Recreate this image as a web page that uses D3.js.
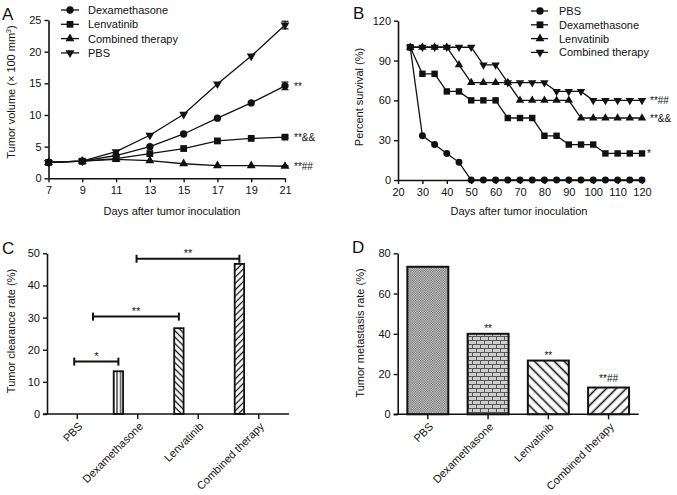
<!DOCTYPE html>
<html><head><meta charset="utf-8">
<script src="https://cdn.jsdelivr.net/npm/d3@7"></script>
<style>
body{margin:0;background:#fff}
svg{display:block}
text{font-family:"Liberation Sans",Arial,Helvetica,sans-serif;fill:#111}
</style>
</head><body>
<svg id="c" width="677" height="495"></svg>
<script>
// ---------- Panel A: tumour volume ----------
const daysA = [7, 9, 11, 13, 15, 17, 19, 21];
const seriesNamesA = ["Dexamethasone", "Lenvatinib", "Combined therapy", "PBS"];
const volDex  = [2.5, 2.7, 3.6, 5.0, 7.0, 9.5, 11.9, 14.6];
const volLenv = [2.5, 2.7, 3.1, 3.9, 4.7, 5.9, 6.3, 6.5];
const volComb = [2.5, 2.7, 3.0, 2.8, 2.3, 2.0, 2.0, 1.9];
const volPBS  = [2.5, 2.7, 4.2, 6.8, 10.1, 14.9, 19.3, 24.2];
const errDex  = [0, 0, 0, 0, 0, 0, 0, 0.6];
const errLenv = [0, 0, 0, 0, 0, 0, 0, 0.2];
const errComb = [0, 0, 0, 0, 0, 0, 0, 0.1];
const errPBS  = [0, 0, 0, 0, 0, 0, 0, 0.6];
const annotA  = ["**", "**&&", "**##", ""];
const ticksAX = [7, 9, 11, 13, 15, 17, 19, 21];
const ticksAY = [0, 5, 10, 15, 20, 25];

// ---------- Panel B: survival ----------
const daysB = [25, 30, 35, 40, 45, 50, 55, 60, 65, 70, 75, 80, 85, 90, 95, 100, 105, 110, 115, 120];
const seriesNamesB = ["PBS", "Dexamethasone", "Lenvatinib", "Combined therapy"];
const survPBS  = [100, 33.3, 26.7, 20, 13.3, 0, 0, 0, 0, 0, 0, 0, 0, 0, 0, 0, 0, 0, 0, 0];
const survDex  = [100, 80, 80, 66.7, 66.7, 60, 60, 60, 46.7, 46.7, 46.7, 33.3, 33.3, 26.7, 26.7, 26.7, 20, 20, 20, 20];
const survLenv = [100, 100, 100, 100, 86.7, 73.3, 73.3, 73.3, 73.3, 60, 60, 60, 60, 60, 46.7, 46.7, 46.7, 46.7, 46.7, 46.7];
const survComb = [100, 100, 100, 100, 100, 100, 86.7, 86.7, 73.3, 73.3, 73.3, 73.3, 66.7, 66.7, 66.7, 60, 60, 60, 60, 60];
const annotB   = ["", "*", "**&&", "**##"];
const ticksBX = [20, 30, 40, 50, 60, 70, 80, 90, 100, 110, 120];
const ticksBY = [0, 30, 60, 90, 120];

// ---------- Panel C: clearance ----------
const groups = ["PBS", "Dexamethasone", "Lenvatinib", "Combined therapy"];
const clearance = [0, 13.3, 26.7, 46.7];
const bracketFrom  = [-0.05, 0.26, 0.98];
const bracketTo    = [0.68, 1.68, 2.68];
const bracketLevel = [16.3, 30.3, 48.3];
const bracketLabel = ["*", "**", "**"];
const ticksCY = [0, 10, 20, 30, 40, 50];

// ---------- Panel D: metastasis ----------
const metastasis = [73.3, 40, 26.7, 13.3];
const annotD = ["", "**", "**", "**##"];
const ticksDY = [0, 20, 40, 60, 80];

const svg = d3.select("#c");
const FS = 11;
const INK = "#111";

// ---------- patterns ----------
const defs = svg.append("defs");
function stripes(id, size, angle, sw) {
  const p = defs.append("pattern").attr("id", id).attr("patternUnits", "userSpaceOnUse")
    .attr("width", size).attr("height", size).attr("patternTransform", `rotate(${angle})`);
  p.append("rect").attr("width", size).attr("height", size).attr("fill", "#fff");
  p.append("line").attr("x1", size / 2).attr("y1", 0).attr("x2", size / 2).attr("y2", size)
    .attr("stroke", INK).attr("stroke-width", sw);
}
stripes("vstripe", 3.6, 0, 1.1);
stripes("bsC", 4.5, -45, 1.3);
stripes("fsC", 4.5, 45, 1.3);
stripes("bsD", 7, -45, 1.6);
stripes("fsD", 7, 45, 1.6);
{
  const p = defs.append("pattern").attr("id", "checker").attr("patternUnits", "userSpaceOnUse")
    .attr("width", 2.4).attr("height", 2.4);
  p.append("rect").attr("width", 2.4).attr("height", 2.4).attr("fill", "#eaeaea");
  p.append("rect").attr("width", 1.2).attr("height", 1.2).attr("fill", "#555");
  p.append("rect").attr("x", 1.2).attr("y", 1.2).attr("width", 1.2).attr("height", 1.2).attr("fill", "#555");
}
{
  const p = defs.append("pattern").attr("id", "brick").attr("patternUnits", "userSpaceOnUse")
    .attr("width", 8).attr("height", 8);
  p.append("rect").attr("width", 8).attr("height", 8).attr("fill", "#cfcfcf");
  const g = p.append("g").attr("stroke", "#555").attr("stroke-width", 1);
  g.append("line").attr("x1", 0).attr("y1", 0.5).attr("x2", 8).attr("y2", 0.5);
  g.append("line").attr("x1", 0).attr("y1", 4.5).attr("x2", 8).attr("y2", 4.5);
  g.append("line").attr("x1", 0.5).attr("y1", 0).attr("x2", 0.5).attr("y2", 4);
  g.append("line").attr("x1", 4.5).attr("y1", 4).attr("x2", 4.5).attr("y2", 8);
}

function styleAxis(g) {
  g.attr("font-size", FS).attr("font-family", '"Liberation Sans",Arial,sans-serif');
  g.selectAll(".domain").attr("stroke", INK).attr("stroke-width", 1.6);
  g.selectAll(".tick line").attr("stroke", INK).attr("stroke-width", 1.4);
  g.selectAll(".tick text").attr("fill", INK);
}
function panelLetter(t, x, y) {
  svg.append("text").attr("x", x).attr("y", y).attr("font-size", 17).text(t);
}
function yTitle(t, x, y) {
  return svg.append("text").attr("transform", `translate(${x},${y}) rotate(-90)`)
    .attr("text-anchor", "middle").attr("font-size", FS).text(t);
}

const symType = { circle: d3.symbolCircle, square: d3.symbolSquare, tri: d3.symbolTriangle, down: d3.symbolTriangle };
const symSize = { circle: 42, square: 46, tri: 34, down: 34 };
function marker(g, type, x, y, scale = 1) {
  g.append("path").attr("d", d3.symbol(symType[type], symSize[type] * scale)())
    .attr("transform", `translate(${x},${y})` + (type === "down" ? " rotate(180)" : ""))
    .attr("fill", INK);
}

// ================= Panel A =================
{
  const x = d3.scaleLinear().domain([7, 21]).range([48.5, 285]);
  const y = d3.scaleLinear().domain([0, 25]).range([178.3, 20]);
  const gx = svg.append("g").attr("transform", `translate(0,${y(0)})`)
    .call(d3.axisBottom(x).tickValues(ticksAX).tickSize(4).tickSizeOuter(0).tickPadding(4));
  styleAxis(gx);
  const gy = svg.append("g").attr("transform", `translate(${x(7)},0)`)
    .call(d3.axisLeft(y).tickValues(ticksAY).tickSize(4).tickSizeOuter(0).tickPadding(3));
  styleAxis(gy);

  const data = [volDex, volLenv, volComb, volPBS];
  const errs = [errDex, errLenv, errComb, errPBS];
  const types = ["circle", "square", "tri", "down"];
  const line = d3.line().x((d, i) => x(daysA[i])).y(d => y(d));
  const g = svg.append("g");
  data.forEach((vals, s) => {
    g.append("path").attr("d", line(vals)).attr("fill", "none").attr("stroke", INK).attr("stroke-width", 1.3);
    vals.forEach((v, i) => {
      const e = errs[s][i];
      if (e > 0) {
        g.append("line").attr("x1", x(daysA[i])).attr("x2", x(daysA[i])).attr("y1", y(v - e)).attr("y2", y(v + e)).attr("stroke", INK).attr("stroke-width", 1.2);
        [v - e, v + e].forEach(b => g.append("line").attr("x1", x(daysA[i]) - 3.5).attr("x2", x(daysA[i]) + 3.5)
          .attr("y1", y(b)).attr("y2", y(b)).attr("stroke", INK).attr("stroke-width", 1.2));
      }
      marker(g, types[s], x(daysA[i]), y(v));
    });
    if (annotA[s]) {
      svg.append("text").attr("x", x(21) + 9).attr("y", y(vals[vals.length - 1]) + 4)
        .attr("font-size", 10).attr("fill", "#222").text(annotA[s]);
    }
  });
  seriesNamesA.forEach((n, i) => {
    const ly = 10 + i * 14.3;
    svg.append("line").attr("x1", 61).attr("x2", 79).attr("y1", ly).attr("y2", ly).attr("stroke", INK).attr("stroke-width", 1.3);
    marker(svg, types[i], 70, ly);
    svg.append("text").attr("x", 88).attr("y", ly + 4).attr("font-size", FS).text(n);
  });
  const t = yTitle("", 15, 92);
  t.append("tspan").text("Tumor volume (× 100 mm");
  t.append("tspan").attr("font-size", 7).attr("dy", -4).text("3");
  t.append("tspan").attr("dy", 4).text(")");
  svg.append("text").attr("x", 172).attr("y", 215).attr("text-anchor", "middle").attr("font-size", FS).text("Days after tumor inoculation");
  panelLetter("A", 2, 20);
}

// ================= Panel B =================
{
  const x = d3.scaleLinear().domain([20, 120]).range([398, 642]);
  const y = d3.scaleLinear().domain([0, 120]).range([180, 20.7]);
  const gx = svg.append("g").attr("transform", `translate(0,${y(0)})`)
    .call(d3.axisBottom(x).tickValues(ticksBX).tickSize(4).tickSizeOuter(0).tickPadding(4));
  styleAxis(gx);
  const gy = svg.append("g").attr("transform", `translate(${x(20)},0)`)
    .call(d3.axisLeft(y).tickValues(ticksBY).tickSize(4).tickSizeOuter(0).tickPadding(3));
  styleAxis(gy);

  const data = [survPBS, survDex, survLenv, survComb];
  const types = ["circle", "square", "tri", "down"];
  const line = d3.line().x((d, i) => x(daysB[i])).y(d => y(d));
  const g = svg.append("g");
  data.forEach((vals, s) => {
    g.append("path").attr("d", line(vals)).attr("fill", "none").attr("stroke", INK).attr("stroke-width", 1.3);
    vals.forEach((v, i) => marker(g, types[s], x(daysB[i]), y(v), 0.9));
    if (annotB[s]) {
      svg.append("text").attr("x", x(120) + (annotB[s] === "*" ? 5 : 8)).attr("y", y(vals[vals.length - 1]) + 4)
        .attr("font-size", 10).attr("fill", "#222").text(annotB[s]);
    }
  });
  seriesNamesB.forEach((n, i) => {
    const ly = 11 + i * 13.8;
    svg.append("line").attr("x1", 531).attr("x2", 548).attr("y1", ly).attr("y2", ly).attr("stroke", INK).attr("stroke-width", 1.3);
    marker(svg, types[i], 540, ly);
    svg.append("text").attr("x", 559).attr("y", ly + 4).attr("font-size", FS).text(n);
  });
  yTitle("Percent survival (%)", 363, 97);
  svg.append("text").attr("x", 519).attr("y", 215).attr("text-anchor", "middle").attr("font-size", FS).text("Days after tumor inoculation");
  panelLetter("B", 353, 19);
}

// rotated category labels, drawn from the band scale
function categoryLabels(x, y0) {
  const bw = x.bandwidth();
  svg.append("g").selectAll("text").data(groups).join("text")
    .attr("text-anchor", "end").attr("font-size", FS)
    .attr("transform", d => `translate(${x(d) + bw / 2 + 6},${y0 + 13}) rotate(-45)`)
    .text(d => d);
}

// ================= Panel C =================
{
  const x = d3.scaleBand().domain(groups).range([47, 289]);
  const bw = x.bandwidth();
  const center = g => x(g) + bw / 2;
  const xi = d3.scaleLinear().domain([0, 3]).range([center(groups[0]), center(groups[3])]);
  const y = d3.scaleLinear().domain([0, 50]).range([414, 253.3]);
  const fills = ["#fff", "url(#vstripe)", "url(#bsC)", "url(#fsC)"];
  const barW = bw * 0.155;
  const g = svg.append("g");
  groups.forEach((c, i) => {
    if (clearance[i] <= 0) return;
    g.append("rect").attr("x", xi(i - 0.32) - barW / 2).attr("y", y(clearance[i]))
      .attr("width", barW).attr("height", y(0) - y(clearance[i]))
      .attr("fill", fills[i]).attr("stroke", INK).attr("stroke-width", 1.8);
  });
  const gx = svg.append("g").attr("transform", `translate(0,${y(0)})`)
    .call(d3.axisBottom(x).tickSize(5).tickSizeOuter(0).tickFormat(""));
  styleAxis(gx);
  gx.select(".domain").attr("d", "M43,0H289");
  categoryLabels(x, y(0));
  const gy = svg.append("g").attr("transform", `translate(47,0)`)
    .call(d3.axisLeft(y).tickValues(ticksCY).tickSize(4).tickSizeOuter(0).tickPadding(3));
  styleAxis(gy);
  bracketLevel.forEach((lv, i) => {
    const x1 = xi(bracketFrom[i]), x2 = xi(bracketTo[i]), yy = y(lv);
    g.append("line").attr("x1", x1).attr("x2", x2).attr("y1", yy).attr("y2", yy).attr("stroke", INK).attr("stroke-width", 2);
    [x1, x2].forEach(xx => g.append("line").attr("x1", xx).attr("x2", xx).attr("y1", yy - 4).attr("y2", yy + 4).attr("stroke", INK).attr("stroke-width", 2));
    svg.append("text").attr("x", (x1 + x2) / 2).attr("y", yy - 2).attr("text-anchor", "middle")
      .attr("font-size", 11).attr("fill", "#222").text(bracketLabel[i]);
  });
  yTitle("Tumor clearance rate (%)", 15, 331);
  panelLetter("C", 2, 254);
}

// ================= Panel D =================
{
  const x = d3.scaleBand().domain(groups).range([397.7, 638.7]).paddingInner(0.32).paddingOuter(0.16);
  const y = d3.scaleLinear().domain([0, 80]).range([414.3, 253.3]);
  const fills = ["url(#checker)", "url(#brick)", "url(#bsD)", "url(#fsD)"];
  const g = svg.append("g");
  groups.forEach((c, i) => {
    g.append("rect").attr("x", x(c)).attr("y", y(metastasis[i]))
      .attr("width", x.bandwidth()).attr("height", y(0) - y(metastasis[i]))
      .attr("fill", fills[i]).attr("stroke", INK).attr("stroke-width", 2);
    if (annotD[i]) {
      svg.append("text").attr("x", x(c) + x.bandwidth() / 2).attr("y", y(metastasis[i]) - (annotD[i].length > 2 ? 6 : 2))
        .attr("text-anchor", "middle").attr("font-size", 10).attr("fill", "#222").text(annotD[i]);
    }
  });
  const gx = svg.append("g").attr("transform", `translate(0,${y(0)})`)
    .call(d3.axisBottom(x).tickSize(5).tickSizeOuter(0).tickFormat(""));
  styleAxis(gx);
  gx.select(".domain").attr("d", "M393.7,0H638.7");
  categoryLabels(x, y(0));
  const gy = svg.append("g").attr("transform", `translate(397.7,0)`)
    .call(d3.axisLeft(y).tickValues(ticksDY).tickSize(4).tickSizeOuter(0).tickPadding(3));
  styleAxis(gy);
  yTitle("Tumor metastasis rate (%)", 364, 333);
  panelLetter("D", 352, 253);
}
</script>
</body></html>
